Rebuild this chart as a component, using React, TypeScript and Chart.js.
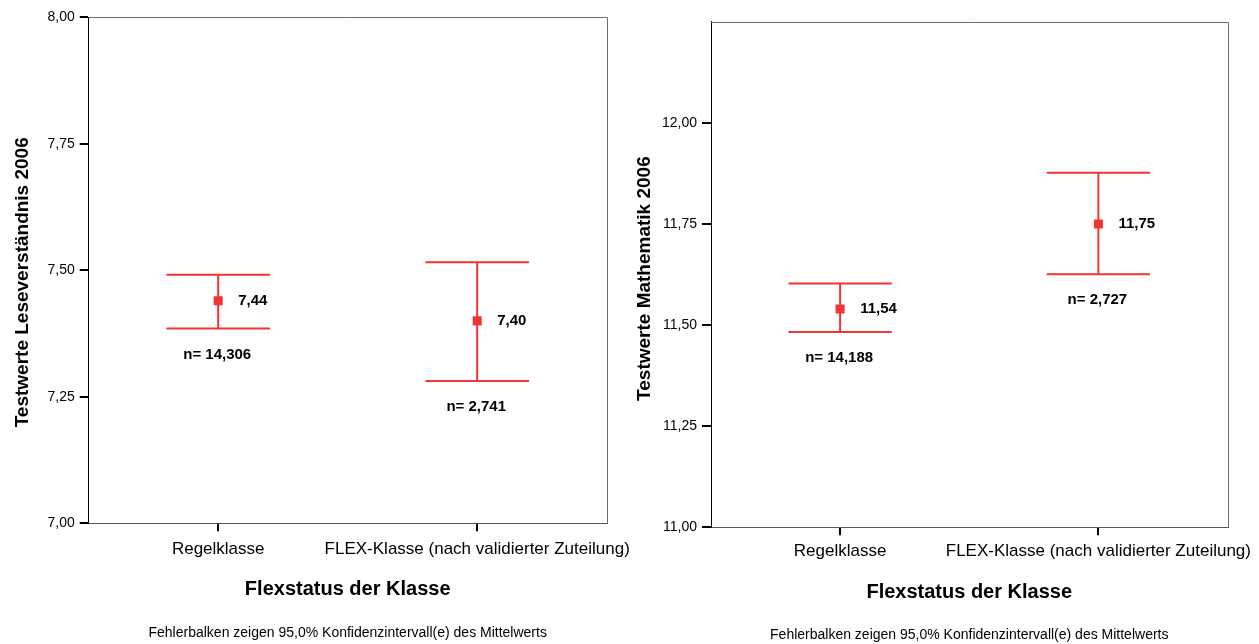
import React, { useEffect, useRef } from 'react';
import { Chart, registerables } from 'chart.js';

Chart.register(...registerables);

// ---- data ----
const categories = ['Regelklasse', 'FLEX-Klasse (nach validierter Zuteilung)'];

const leseMeans = [7.44, 7.40];
const leseLower = [7.385, 7.281];
const leseUpper = [7.491, 7.516];
const leseN = ['14,306', '2,741'];
const leseTickValues = [7.0, 7.25, 7.5, 7.75, 8.0];

const matheMeans = [11.54, 11.75];
const matheLower = [11.483, 11.626];
const matheUpper = [11.603, 11.877];
const matheN = ['14,188', '2,727'];
const matheTickValues = [11.0, 11.25, 11.5, 11.75, 12.0];

const xTitle = 'Flexstatus der Klasse';
const footnote = 'Fehlerbalken zeigen 95,0% Konfidenzintervall(e) des Mittelwerts';

const RED = '#f03535';
const FONT = "'Liberation Sans', Arial, sans-serif";

const fmt = (v: number) => v.toFixed(2).replace('.', ',');

const errorBarPlugin = {
  id: 'errorBars',
  beforeDatasetsDraw(chart: any, _args: any, opts: any) {
    const { ctx, chartArea, scales } = chart;
    const x = scales.x;
    const y = scales.y;
    ctx.save();
    // plot frame (top & right)
    ctx.strokeStyle = '#6e6e6e';
    ctx.lineWidth = 1;
    ctx.beginPath();
    ctx.moveTo(chartArea.left, Math.round(chartArea.top) + 0.5);
    ctx.lineTo(Math.round(chartArea.right) + 0.5, Math.round(chartArea.top) + 0.5);
    ctx.lineTo(Math.round(chartArea.right) + 0.5, chartArea.bottom);
    ctx.stroke();
    // error bars
    const cap = (x.getPixelForValue(1) - x.getPixelForValue(0)) * 0.2;
    ctx.strokeStyle = RED;
    ctx.lineWidth = 2;
    opts.lower.forEach((lo: number, i: number) => {
      const px = x.getPixelForValue(i);
      const yl = y.getPixelForValue(lo);
      const yu = y.getPixelForValue(opts.upper[i]);
      ctx.beginPath();
      ctx.moveTo(px, yu);
      ctx.lineTo(px, yl);
      ctx.moveTo(px - cap, yu);
      ctx.lineTo(px + cap, yu);
      ctx.moveTo(px - cap, yl);
      ctx.lineTo(px + cap, yl);
      ctx.stroke();
    });
    ctx.restore();
  },
  afterDatasetsDraw(chart: any, _args: any, opts: any) {
    const { ctx, scales } = chart;
    const x = scales.x;
    const y = scales.y;
    ctx.save();
    ctx.fillStyle = '#000';
    ctx.font = `bold 15px ${FONT}`;
    opts.means.forEach((m: number, i: number) => {
      const px = x.getPixelForValue(i);
      ctx.textAlign = 'left';
      ctx.textBaseline = 'middle';
      ctx.fillText(fmt(m), px + 20, y.getPixelForValue(m));
      ctx.textAlign = 'center';
      ctx.fillText('n= ' + opts.n[i], px - 1, y.getPixelForValue(opts.lower[i]) + 26);
    });
    ctx.restore();
  },
  afterDraw(chart: any, _args: any, opts: any) {
    const { ctx, chartArea } = chart;
    ctx.save();
    ctx.fillStyle = '#000';
    // footnote
    ctx.font = `14px ${FONT}`;
    ctx.textAlign = 'center';
    ctx.textBaseline = 'middle';
    ctx.fillText(footnote, (chartArea.left + chartArea.right) / 2, opts.footY);
    // rotated y-axis title
    ctx.font = `bold 19px ${FONT}`;
    ctx.translate(opts.yTitleX, (chartArea.top + chartArea.bottom) / 2 + opts.yTitleShift);
    ctx.rotate(-Math.PI / 2);
    ctx.fillText(opts.yTitle, 0, 0);
    ctx.restore();
  },
};

type Props = {
  left: number;
  width: number;
  means: number[];
  lower: number[];
  upper: number[];
  n: string[];
  tickValues: number[];
  yMin: number;
  yMax: number;
  yTitle: string;
  yAxisWidth: number;
  xAxisHeight: number;
  padTop: number;
  padRight: number;
  yTitleX: number;
  yTitleShift: number;
  xTitlePad: number;
  xTickPad: number;
  footY: number;
};

function ErrorChart(p: Props) {
  const ref = useRef<HTMLCanvasElement>(null);
  useEffect(() => {
    const chart = new Chart(ref.current as HTMLCanvasElement, {
      type: 'line',
      data: {
        labels: categories,
        datasets: [
          {
            data: p.means,
            showLine: false,
            pointStyle: 'rect',
            pointRadius: 6.4,
            pointHoverRadius: 6.4,
            pointBackgroundColor: RED,
            pointBorderColor: RED,
            pointBorderWidth: 0,
          },
        ],
      },
      options: {
        responsive: false,
        animation: false,
        events: [],
        layout: { padding: { top: p.padTop, right: p.padRight, bottom: 0, left: 0 } },
        plugins: {
          legend: { display: false },
          tooltip: { enabled: false },
          errorBars: {
            means: p.means,
            lower: p.lower,
            upper: p.upper,
            n: p.n,
            footY: p.footY,
            yTitle: p.yTitle,
            yTitleX: p.yTitleX,
            yTitleShift: p.yTitleShift,
          },
        } as any,
        scales: {
          x: {
            type: 'category',
            offset: true,
            afterFit: (s: any) => {
              s.height = p.xAxisHeight;
            },
            grid: { drawOnChartArea: false, drawTicks: true, tickLength: 8, color: '#000', lineWidth: 2 },
            border: { color: '#555', width: 1 },
            ticks: {
              color: '#000',
              font: { family: FONT, size: 17 },
              padding: p.xTickPad,
              maxRotation: 0,
              minRotation: 0,
              autoSkip: false,
            },
            title: {
              display: true,
              text: xTitle,
              color: '#000',
              font: { family: FONT, size: 20, weight: 'bold' },
              padding: { top: 0, bottom: p.xTitlePad },
            },
          },
          y: {
            min: p.yMin,
            max: p.yMax,
            afterFit: (s: any) => {
              s.width = p.yAxisWidth;
            },
            afterBuildTicks: (s: any) => {
              s.ticks = p.tickValues.map((v) => ({ value: v }));
            },
            grid: { drawOnChartArea: false, drawTicks: true, tickLength: 9, color: '#000', lineWidth: 2 },
            border: { color: '#000', width: 1 },
            ticks: {
              color: '#000',
              font: { family: FONT, size: 14 },
              padding: 5,
              callback: (v: any) => fmt(Number(v)),
            },
            title: { display: false },
          },
        },
      } as any,
      plugins: [errorBarPlugin],
    });
    return () => chart.destroy();
  }, []);
  return (
    <canvas
      ref={ref}
      width={p.width}
      height={644}
      style={{ position: 'absolute', left: p.left, top: 0, width: p.width, height: 644 }}
    />
  );
}

export default function App() {
  return (
    <div
      style={{
        position: 'absolute',
        left: 0,
        top: 0,
        width: 1259,
        height: 644,
        background: '#fff',
        overflow: 'hidden',
      }}
    >
      <ErrorChart
        left={0}
        width={660}
        means={leseMeans}
        lower={leseLower}
        upper={leseUpper}
        n={leseN}
        tickValues={leseTickValues}
        yMin={7}
        yMax={8}
        yTitle="Testwerte Leseverständnis 2006"
        yAxisWidth={88.7}
        xAxisHeight={120.7}
        padTop={17.3}
        padRight={660 - 606.7}
        yTitleX={23}
        yTitleShift={12}
        xTitlePad={43}
        xTickPad={8}
        footY={633}
      />
      <ErrorChart
        left={620}
        width={680}
        means={matheMeans}
        lower={matheLower}
        upper={matheUpper}
        n={matheN}
        tickValues={matheTickValues}
        yMin={11}
        yMax={12.25}
        yTitle="Testwerte Mathematik 2006"
        yAxisWidth={91}
        xAxisHeight={116.7}
        padTop={21.9}
        padRight={680 - 607.5}
        yTitleX={25}
        yTitleShift={4}
        xTitlePad={40}
        xTickPad={6}
        footY={635}
      />
    </div>
  );
}
